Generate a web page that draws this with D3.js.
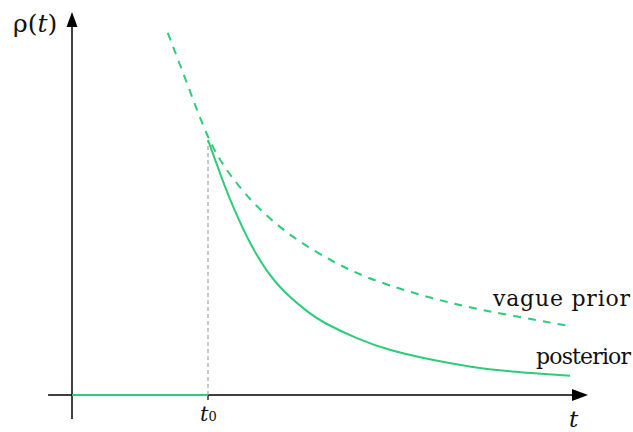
<!DOCTYPE html>
<html>
<head>
<meta charset="utf-8">
<script src="https://cdn.jsdelivr.net/npm/d3@7"></script>
<style>
  html, body { margin: 0; padding: 0; background: #fff; }
  svg { display: block; }
  text { font-family: "DejaVu Serif", "Liberation Serif", serif; fill: #111; }
</style>
</head>
<body>
<svg id="chart" width="633" height="432"></svg>
<script>
// ---- data ----
const t0 = 2.5;
const priorT   = [1.76, 2.13, 2.5, 2.85, 3.4, 4.06, 4.8, 5.42, 6.21, 7.08, 8.0, 9.15];
const priorRho = [1.207, 1.033, 0.85, 0.743, 0.623, 0.523, 0.443, 0.39, 0.343, 0.30, 0.267, 0.23];
const zeroT    = [0, 2.5];
const zeroRho  = [0, 0];
const postT    = [2.5, 2.665, 2.813, 2.96, 3.272, 3.585, 3.879, 4.375, 4.614, 5.239, 5.846, 6.526, 7.371, 7.996, 9.154];
const postRho  = [0.85, 0.767, 0.693, 0.627, 0.503, 0.41, 0.345, 0.27, 0.242, 0.187, 0.148, 0.12, 0.092, 0.079, 0.064];
const seriesLabels = ["vague prior", "posterior"];

const svg = d3.select("#chart");
const x = d3.scaleLinear().domain([0, 10]).range([72, 616]);
const y = d3.scaleLinear().domain([0, 1.2]).range([395, 35]);
const green = "#2ecc7a";

// axes
svg.append("line").attr("x1", x(-0.44)).attr("x2", 574).attr("y1", y(0)).attr("y2", y(0))
  .attr("stroke", "#000").attr("stroke-width", 1.5);
svg.append("path").attr("d", `M588,${y(0)} L572,${y(0)-6} L572,${y(0)+6} Z`).attr("fill", "#000");
svg.append("line").attr("x1", x(0)).attr("x2", x(0)).attr("y1", 419).attr("y2", 26)
  .attr("stroke", "#000").attr("stroke-width", 1.5);
svg.append("path").attr("d", `M${x(0)},12 L${x(0)-5.5},27 L${x(0)+5.5},27 Z`).attr("fill", "#000");

// t0 tick and dashed guide
svg.append("line").attr("x1", x(t0)).attr("x2", x(t0)).attr("y1", y(0)).attr("y2", y(0) + 5)
  .attr("stroke", "#000").attr("stroke-width", 1.2);
svg.append("line").attr("x1", x(t0)).attr("x2", x(t0)).attr("y1", y(0)).attr("y2", y(0.85))
  .attr("stroke", "#aaa").attr("stroke-width", 1.3).attr("stroke-dasharray", "4,3");

const line = d3.line().x(d => x(d[0])).y(d => y(d[1])).curve(d3.curveBasis);

// prior
svg.append("path").datum(priorT.map((t, i) => [t, priorRho[i]]))
  .attr("d", line).attr("fill", "none").attr("stroke", green)
  .attr("stroke-width", 2).attr("stroke-dasharray", "8,7");

// posterior (zero before t0, then decay)
svg.append("path").datum(zeroT.map((t, i) => [t, zeroRho[i]]))
  .attr("d", line).attr("fill", "none").attr("stroke", green).attr("stroke-width", 2);
svg.append("path").datum(postT.map((t, i) => [t, postRho[i]]))
  .attr("d", line).attr("fill", "none").attr("stroke", green).attr("stroke-width", 2);

// labels
const yl = svg.append("text").attr("x", 13).attr("y", 32).attr("font-size", 25);
yl.append("tspan").text("ρ(");
yl.append("tspan").attr("font-style", "italic").text("t");
yl.append("tspan").text(")");

svg.append("text").attr("x", 569).attr("y", 427).attr("font-size", 23)
  .attr("font-style", "italic").text("t");

const tl = svg.append("text").attr("x", 200).attr("y", 421).attr("font-size", 21);
tl.append("tspan").attr("font-style", "italic").text("t");
tl.append("tspan").attr("font-size", 13).text("0");

svg.append("text").attr("x", 493).attr("y", 306).attr("font-size", 22)
  .attr("textLength", 137).attr("lengthAdjust", "spacing").text(seriesLabels[0]);
svg.append("text").attr("x", 536).attr("y", 364).attr("font-size", 22)
  .attr("textLength", 95).attr("lengthAdjust", "spacing").text(seriesLabels[1]);
</script>
</body>
</html>
